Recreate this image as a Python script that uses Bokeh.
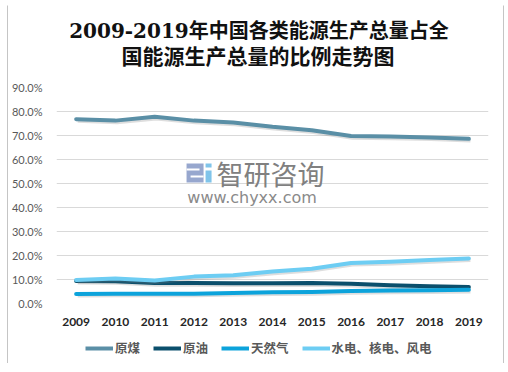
from bokeh.plotting import figure
from bokeh.layouts import column, row
from bokeh.models import Range1d, FixedTicker, PrintfTickFormatter, Legend, LegendItem
from bokeh.core.properties import value
from bokeh.embed import file_html
from bokeh.resources import INLINE
import numpy as np

years = [2009, 2010, 2011, 2012, 2013, 2014, 2015, 2016, 2017, 2018, 2019]
coal = [76.8, 76.2, 77.8, 76.2, 75.4, 73.6, 72.2, 69.8, 69.6, 69.2, 68.6]
oil = [9.4, 9.3, 8.5, 8.5, 8.4, 8.4, 8.5, 8.2, 7.6, 7.2, 6.9]
gas = [4.0, 4.1, 4.1, 4.1, 4.4, 4.7, 4.8, 5.2, 5.4, 5.5, 5.7]
elec = [9.8, 10.4, 9.6, 11.2, 11.8, 13.3, 14.5, 16.9, 17.4, 18.1, 18.8]
names = ["原煤", "原油", "天然气", "水电、核电、风电"]
colors = ["#5a8fa6", "#0b4f6c", "#0ca3db", "#6dcdf3"]
y_ticks = [0, 10, 20, 30, 40, 50, 60, 70, 80, 90]
title_line1 = "2009-2019年中国各类能源生产总量占全"
title_line2 = "国能源生产总量的比例走势图"

title_font = "DejaVu Serif, Noto Sans CJK SC"
cn_font = "Lato, Noto Sans CJK SC"
BORDER = "#8c8c8c"


def bare(w, h, xr=(0, 1), yr=(0, 1), left=0, right=0, top=0, bottom=0, fill="white"):
    s = figure(width=w, height=h, output_backend="svg", toolbar_location=None,
               x_axis_location=None, y_axis_location=None,
               x_range=Range1d(*xr), y_range=Range1d(*yr),
               min_border_left=left, min_border_right=right,
               min_border_top=top, min_border_bottom=bottom)
    s.grid.visible = False
    s.outline_line_color = None
    s.border_fill_color = "white"
    s.background_fill_color = fill
    return s


# title strip (pixel-sized ranges)
tf = bare(495, 64, xr=(0, 495), yr=(0, 64))
tf.text(x=[232], y=[40], text=[title_line1], text_font=value(title_font), text_font_size="20px",
        text_font_style="bold", text_color="#111111", text_align="center", text_baseline="middle")
tf.text(x=[231], y=[14], text=[title_line2], text_font=value(title_font), text_font_size="21px",
        text_font_style="bold", text_color="#111111", text_align="center", text_baseline="middle")

p = figure(width=495, height=262, output_backend="svg", toolbar_location=None,
           x_range=Range1d(2008.5, 2019.5), y_range=Range1d(0, 90),
           min_border_left=47, min_border_right=15, min_border_top=17, min_border_bottom=29)
p.outline_line_color = None
p.background_fill_color = "white"
p.border_fill_color = "white"

# watermark
p.rect(x=[2012.028], y=[54.375], width=0.433, height=7.92, fill_color="#8c9dc9", line_color=None, fill_alpha=0.9)
p.rect(x=[2011.977], y=[55.83], width=0.33, height=0.9, fill_color="white", line_color=None)
p.rect(x=[2012.079], y=[52.92], width=0.33, height=0.9, fill_color="white", line_color=None)
p.rect(x=[2012.372], y=[52.92], width=0.153, height=5.0, fill_color="#80c4ea", line_color=None)
p.rect(x=[2012.372], y=[57.5], width=0.153, height=1.67, fill_color="#80c4ea", line_color=None)
p.text(x=[2013.95], y=[54.2], text=["智研咨询"], text_font=value("Noto Sans CJK SC"),
       text_font_size="27px", text_color="#808080", text_align="center", text_baseline="middle")
p.text(x=[2013.48], y=[44.2], text=["www.chyxx.com"], text_font=value("DejaVu Sans"),
       text_font_size="16px", text_color="#8a8a8a", text_align="center", text_baseline="middle")

for series, c in zip([coal, oil, gas, elec], colors):
    p.line(np.array(years) + 0.04, np.array(series) - 0.7, line_width=4, line_color="#7a7a7a", line_alpha=0.25)
    p.line(years, series, line_width=4, line_color=c, line_cap="round", line_join="round")

p.xgrid.visible = False
p.ygrid.grid_line_color = "#d9d9d9"
p.ygrid.ticker = FixedTicker(ticks=y_ticks)
p.xaxis.ticker = FixedTicker(ticks=years)
p.yaxis.ticker = FixedTicker(ticks=y_ticks)
p.yaxis.formatter = PrintfTickFormatter(format="%.1f%%")
for ax in (p.xaxis[0], p.yaxis[0]):
    ax.axis_line_color = None
    ax.major_tick_line_color = None
    ax.minor_tick_line_color = None
    ax.major_label_text_font = "Lato"
p.yaxis.major_label_text_font_size = "11px"
p.yaxis.major_label_text_color = "#595959"
p.yaxis.major_label_standoff = 8
p.xaxis.major_label_text_font_size = "12px"
p.xaxis.major_label_text_font_style = "bold"
p.xaxis.major_label_text_color = "#262626"
p.xaxis.major_label_standoff = 8

# legend strip
p2 = bare(495, 29)
items = []
for c, n in zip(colors, names):
    r = p2.line([5, 6], [5, 6], line_width=4, line_color=c)
    items.append(LegendItem(label=n, renderers=[r]))
legend = Legend(items=items, orientation="horizontal", location=(29, 4),
                label_text_font=cn_font, label_text_font_size="12.5px", label_text_font_style="bold",
                label_text_color="#595959", glyph_width=28, glyph_height=12, label_standoff=2,
                spacing=13, border_line_color=None, background_fill_alpha=0,
                padding=0, margin=0)
p2.add_layout(legend, "center")

# thin frame around the whole chart
left_edge = bare(8, 363, left=7, top=5, fill=BORDER)
right_edge = bare(1, 363, top=5, fill=BORDER)
top_edge = bare(495, 6, top=5, fill=BORDER)
bottom_edge = bare(495, 2, top=1, fill=BORDER)

layout = row(left_edge, column(top_edge, tf, p, p2, bottom_edge, spacing=0), right_edge, spacing=0)

open("out.html", "w").write(file_html(layout, INLINE))
